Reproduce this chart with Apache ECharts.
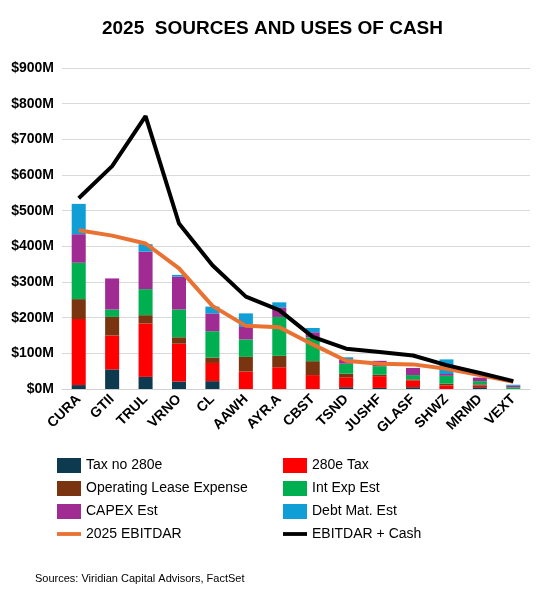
<!DOCTYPE html><html><head><meta charset="utf-8"><script src="https://cdn.jsdelivr.net/npm/echarts@6/dist/echarts.min.js"></script>
<style>html,body{margin:0;padding:0;background:#fff}#c{width:545px;height:600px}</style></head><body><div id="c"></div><script>
var categories=['CURA','GTII','TRUL','VRNO','CL','AAWH','AYR.A','CBST','TSND','JUSHF','GLASF','SHWZ','MRMD','VEXT'];
var taxNo280e=[11,55,34,21,22,0,0,0,5,3,5,0,5,0];
var tax280e=[185,95,150,106,51,49,61,39,28,33,19,10,5,0];
var opLease=[56,52,23,18,15,41,32,39,10,4,3,5,3,0];
var intExp=[102,21,73,78,74,49,109,67,28,24,12,22,9,5];
var capex=[80,87,105,92,50,35,27,14,12,15,20,5,10,5];
var debtMat=[85,0,21,5,19,38,14,12,6,0,0,41,0,2];
var ebitdar=[445,430,408,338,233,177,173,125,79,71,69,57,39,20];
var ebitdarCash=[535,625,765,464,347,259,221,146,113,104,94,67,45,22];
var yTicks=[0,100,200,300,400,500,600,700,800,900];
var ch=echarts.init(document.getElementById('c'));
function bar(n,d,c){return {name:n,type:'bar',stack:'s',data:d,barWidth:'42%',itemStyle:{color:c}};}
var lineIcon='path://M0,0h44v7h-44z';
var lt={fontFamily:'Liberation Sans',fontSize:14,color:'#000'};
ch.setOption({
 animation:false,
 title:{text:'2025  SOURCES AND USES OF CASH',left:'center',top:14,textStyle:{fontFamily:'Liberation Sans',fontSize:19,fontWeight:'bold',color:'#000'}},
 grid:{left:62,right:15,top:68,bottom:211},
 legend:[{orient:'vertical',left:52,top:453,itemGap:8,itemWidth:24,itemHeight:15,textStyle:lt,data:[{name:'Tax no 280e',icon:'rect'},{name:'Operating Lease Expense',icon:'rect'},{name:'CAPEX Est',icon:'rect'},{name:'2025 EBITDAR',icon:lineIcon}]},
  {orient:'vertical',left:278,top:453,itemGap:8,itemWidth:24,itemHeight:15,textStyle:lt,data:[{name:'280e Tax',icon:'rect'},{name:'Int Exp Est',icon:'rect'},{name:'Debt Mat. Est',icon:'rect'},{name:'EBITDAR + Cash',icon:lineIcon}]}],
 graphic:[{type:'text',left:35,top:573,style:{text:'Sources: Viridian Capital Advisors, FactSet',fontFamily:'Liberation Sans',fontSize:11,fill:'#000'}}],
 xAxis:{type:'category',data:categories,axisTick:{show:false},axisLine:{lineStyle:{color:'#d0d0d0'}},axisLabel:{rotate:45,interval:0,fontFamily:'Liberation Sans',fontWeight:'bold',fontSize:14,color:'#000',margin:8}},
 yAxis:{type:'value',min:0,max:900,interval:100,axisLabel:{formatter:function(v){return '$'+v+'M';},fontFamily:'Liberation Sans',fontWeight:'bold',fontSize:14,color:'#000'},splitLine:{lineStyle:{color:'#d9d9d9'}}},
 series:[bar('Tax no 280e',taxNo280e,'#0E3A4F'),bar('280e Tax',tax280e,'#FF0000'),bar('Operating Lease Expense',opLease,'#7B3410'),bar('Int Exp Est',intExp,'#00B050'),bar('CAPEX Est',capex,'#A02B93'),bar('Debt Mat. Est',debtMat,'#0F9ED5'),
  {name:'2025 EBITDAR',type:'line',data:ebitdar,symbol:'none',lineStyle:{color:'#E97132',width:4},itemStyle:{color:'#E97132'}},
  {name:'EBITDAR + Cash',type:'line',data:ebitdarCash,symbol:'none',lineStyle:{color:'#000',width:4},itemStyle:{color:'#000'}}]
});
</script></body></html>
